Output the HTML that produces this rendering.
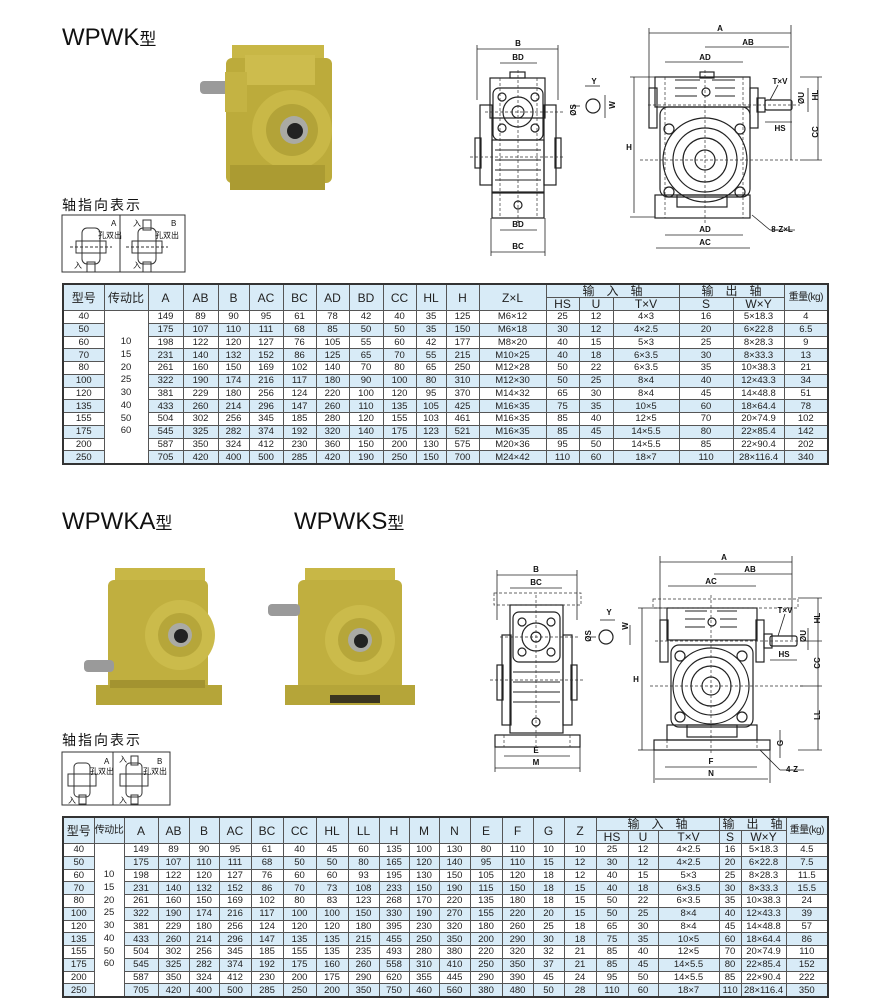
<!DOCTYPE html>
<html><head><meta charset="utf-8">
<style>
body{margin:0;width:890px;height:1001px;background:#fff;position:relative;overflow:hidden;font-family:"Liberation Sans","Noto Sans CJK SC",sans-serif}
svg{position:absolute;left:0;top:0}
.h{position:absolute;font-size:24px;color:#111;font-family:"Liberation Sans","Noto Sans CJK SC",sans-serif;letter-spacing:0}
.h small{font-size:17px}
.s{position:absolute;font-size:14px;color:#111;letter-spacing:2px}
table{position:absolute;border-collapse:collapse;table-layout:fixed;border:2px solid #333;font-size:9.5px;color:#222}
td{border:1px solid #555;padding:0;text-align:center;height:11.75px;line-height:11px;overflow:hidden;white-space:nowrap}
tr.b td{background:#d8ebf7}
tr.b td.r,tr td.r{background:#fff;vertical-align:top;line-height:12.75px}
.hd td{background:#d8ebf7;font-size:12px;height:12px;line-height:12px}
.hd td.t{height:25px}
.hd td.k{font-size:10px;letter-spacing:-0.5px}
</style></head><body>
<div class="h" style="left:62px;top:24px">WPWK<small>型</small></div>
<div class="h" style="left:62px;top:508px">WPWKA<small>型</small></div>
<div class="h" style="left:294px;top:508px">WPWKS<small>型</small></div>
<div class="s" style="left:62px;top:195px">轴指向表示</div>
<div class="s" style="left:62px;top:730px">轴指向表示</div>

<svg width="890" height="1001" viewBox="0 0 890 1001" font-family="Liberation Sans, Noto Sans CJK SC, sans-serif">

<!-- photo 1 -->
<g>
 <rect x="232" y="45" width="92" height="20" fill="#c8b746"/>
 <rect x="226" y="58" width="106" height="125" rx="6" fill="#bcab3b"/>
 <rect x="245" y="55" width="70" height="30" fill="#cdbc4d"/>
 <rect x="200" y="81" width="30" height="13" rx="4" fill="#9a9a9a"/>
 <rect x="225" y="72" width="22" height="40" fill="#c4b343"/>
 <circle cx="292" cy="130" r="40" fill="#c9b847"/>
 <circle cx="292" cy="130" r="26" fill="#b3a338"/>
 <circle cx="294" cy="130" r="14" fill="#aaaaa4"/>
 <circle cx="295" cy="131" r="8" fill="#222"/>
 <rect x="230" y="165" width="95" height="25" fill="#ab9b32"/>
</g>
<!-- photo 2 -->
<g>
 <rect x="115" y="568" width="90" height="18" fill="#c8b746"/>
 <rect x="108" y="580" width="100" height="110" rx="6" fill="#c0af3f"/>
 <circle cx="180" cy="635" r="35" fill="#cbbb4b"/>
 <circle cx="180" cy="635" r="22" fill="#b6a63a"/>
 <circle cx="180" cy="635" r="12" fill="#aaaaa4"/>
 <circle cx="181" cy="636" r="7" fill="#222"/>
 <rect x="84" y="660" width="30" height="12" rx="4" fill="#9a9a9a"/>
 <rect x="96" y="685" width="126" height="20" fill="#b5a539"/>
 <rect x="110" y="680" width="95" height="8" fill="#a39330"/>
</g>
<!-- photo 3 -->
<g>
 <rect x="305" y="568" width="90" height="18" fill="#c8b746"/>
 <rect x="298" y="580" width="104" height="110" rx="6" fill="#c0af3f"/>
 <circle cx="360" cy="640" r="35" fill="#cbbb4b"/>
 <circle cx="360" cy="640" r="22" fill="#b6a63a"/>
 <circle cx="360" cy="640" r="12" fill="#aaaaa4"/>
 <circle cx="361" cy="641" r="7" fill="#222"/>
 <rect x="268" y="604" width="32" height="12" rx="4" fill="#9a9a9a"/>
 <rect x="285" y="685" width="130" height="20" fill="#b5a539"/>
 <rect x="330" y="695" width="50" height="8" fill="#3a3520"/>
</g>

<!-- direction icons top -->
<g stroke="#333" fill="none" stroke-width="1">
 <rect x="62" y="215" width="123" height="57"/>
 <line x1="120" y1="215" x2="120" y2="272"/>
 <rect x="82" y="228" width="18" height="36" rx="5"/><rect x="76" y="241" width="30" height="12"/><rect x="87" y="262" width="8" height="10"/>
 <line x1="70" y1="247" x2="112" y2="247" stroke-dasharray="3 2"/>
 <rect x="138" y="228" width="18" height="36" rx="5"/><rect x="132" y="241" width="30" height="12"/><rect x="143" y="220" width="8" height="10"/><rect x="143" y="262" width="8" height="10"/>
 <line x1="126" y1="247" x2="168" y2="247" stroke-dasharray="3 2"/>
</g>
<g font-size="8" fill="#111"><text x="111" y="226">A</text><text x="98" y="238">孔双出</text><text x="74" y="268">入</text>
<text x="171" y="226">B</text><text x="155" y="238">孔双出</text><text x="133" y="226">入</text><text x="133" y="268">入</text></g>
<!-- direction icons bottom -->
<g stroke="#333" fill="none" stroke-width="1">
 <rect x="62" y="752" width="108" height="53"/>
 <line x1="113" y1="752" x2="113" y2="805"/>
 <rect x="74" y="763" width="16" height="34" rx="4"/><rect x="68" y="774" width="28" height="12"/><rect x="79" y="795" width="7" height="9"/>
 <rect x="126" y="763" width="16" height="34" rx="4"/><rect x="120" y="774" width="28" height="12"/><rect x="131" y="756" width="7" height="9"/><rect x="131" y="795" width="7" height="9"/>
</g>
<g font-size="8" fill="#111"><text x="104" y="764">A</text><text x="90" y="774">孔双出</text><text x="68" y="803">入</text>
<text x="157" y="764">B</text><text x="143" y="774">孔双出</text><text x="119" y="762">入</text><text x="119" y="803">入</text></g>

<!-- ===== Drawing 1 front ===== -->
<g stroke="#222" fill="none" stroke-width="1.2">
 <rect x="490" y="78" width="55" height="40"/>
 <rect x="493" y="88" width="50" height="52" rx="6"/>
 <circle cx="518" cy="112" r="15"/><circle cx="518" cy="112" r="6"/>
 <circle cx="502" cy="97" r="4"/><circle cx="535" cy="97" r="4"/><circle cx="502" cy="128" r="4"/><circle cx="535" cy="128" r="4"/>
 <rect x="480" y="105" width="12" height="80"/><rect x="544" y="105" width="12" height="80"/>
 <rect x="475" y="138" width="6" height="30"/><rect x="555" y="138" width="6" height="30"/>
 <rect x="492" y="140" width="52" height="52"/>
 <rect x="492" y="193" width="52" height="25"/>
 <rect x="510" y="72" width="15" height="6"/>
 <g stroke-width="1"><line x1="495" y1="150" x2="541" y2="150"/><line x1="495" y1="160" x2="541" y2="160"/><line x1="495" y1="170" x2="541" y2="170"/><line x1="495" y1="180" x2="541" y2="180"/></g>
 <circle cx="518" cy="205" r="4"/>
 <circle cx="593" cy="106" r="7"/>
</g>
<g stroke="#333" stroke-width="0.7" stroke-dasharray="3 2" fill="none">
 <line x1="518" y1="70" x2="518" y2="225"/><line x1="470" y1="157" x2="565" y2="157"/><line x1="485" y1="112" x2="565" y2="112"/>
 <line x1="500" y1="78" x2="500" y2="218"/><line x1="537" y1="78" x2="537" y2="218"/>
</g>
<g stroke="#222" stroke-width="0.8" fill="none">
 <line x1="477" y1="49" x2="558" y2="49"/><line x1="500" y1="63" x2="537" y2="63"/>
 <line x1="500" y1="230" x2="537" y2="230"/><line x1="491" y1="252" x2="545" y2="252"/>
 <line x1="477" y1="45" x2="477" y2="100"/><line x1="558" y1="45" x2="558" y2="100"/>
 <line x1="491" y1="218" x2="491" y2="256"/><line x1="545" y1="218" x2="545" y2="256"/>
 <line x1="585" y1="86" x2="600" y2="86"/><line x1="605" y1="95" x2="605" y2="118"/><line x1="572" y1="106" x2="580" y2="106"/>
</g>
<g font-size="8" font-weight="bold" fill="#111" text-anchor="middle">
 <text x="518" y="46">B</text><text x="518" y="60">BD</text><text x="518" y="227">BD</text><text x="518" y="249">BC</text>
 <text x="594" y="84">Y</text><text x="612" y="108" transform="rotate(-90 612 105)">W</text><text x="574" y="112" transform="rotate(-90 574 110)">ØS</text>
</g>

<!-- ===== Drawing 1 side ===== -->
<g stroke="#222" fill="none" stroke-width="1.2">
 <rect x="655" y="77" width="95" height="30"/>
 <rect x="649" y="88" width="8" height="40"/><rect x="750" y="88" width="8" height="40"/>
 <rect x="660" y="107" width="90" height="90" rx="8"/>
 <circle cx="705" cy="160" r="42"/><circle cx="705" cy="160" r="32"/><circle cx="705" cy="160" r="22"/><circle cx="705" cy="160" r="10"/>
 <circle cx="669" cy="129" r="5"/><circle cx="740" cy="129" r="5"/><circle cx="669" cy="192" r="5"/><circle cx="740" cy="192" r="5"/>
 <rect x="655" y="195" width="95" height="23"/><rect x="677" y="195" width="50" height="12"/>
 <rect x="757" y="98" width="8" height="14"/><rect x="765" y="100" width="27" height="10" rx="2"/>
 <rect x="700" y="72" width="14" height="6"/>
 <g stroke-width="1"><line x1="675" y1="80" x2="700" y2="80"/><line x1="712" y1="80" x2="735" y2="80"/><line x1="675" y1="88" x2="697" y2="88"/><line x1="715" y1="88" x2="735" y2="88"/><line x1="675" y1="96" x2="697" y2="96"/><line x1="715" y1="96" x2="735" y2="96"/></g>
 <circle cx="706" cy="92" r="4"/>
</g>
<g stroke="#333" stroke-width="0.7" stroke-dasharray="3 2" fill="none">
 <line x1="705" y1="70" x2="705" y2="225"/><line x1="640" y1="160" x2="800" y2="160"/><line x1="648" y1="105" x2="800" y2="105"/>
 <line x1="665" y1="77" x2="665" y2="218"/><line x1="743" y1="77" x2="743" y2="218"/>
</g>
<g stroke="#222" stroke-width="0.8" fill="none">
 <line x1="649" y1="33" x2="791" y2="33"/><line x1="705" y1="47" x2="789" y2="47"/><line x1="665" y1="62" x2="743" y2="62"/>
 <line x1="649" y1="28" x2="649" y2="100"/><line x1="791" y1="25" x2="791" y2="160"/>
 <line x1="634" y1="77" x2="634" y2="213"/><line x1="630" y1="77" x2="655" y2="77"/><line x1="630" y1="217" x2="655" y2="217"/>
 <line x1="665" y1="235" x2="743" y2="235"/><line x1="656" y1="248" x2="750" y2="248"/>
 <line x1="765" y1="122" x2="792" y2="122"/>
 <line x1="818" y1="77" x2="818" y2="160"/><line x1="800" y1="77" x2="822" y2="77"/><line x1="800" y1="160" x2="822" y2="160"/>
 <line x1="808" y1="88" x2="808" y2="112"/>
 <line x1="752" y1="215" x2="770" y2="230"/><line x1="770" y1="230" x2="795" y2="230"/>
 <line x1="778" y1="85" x2="770" y2="100"/>
</g>
<g font-size="8" font-weight="bold" fill="#111" text-anchor="middle">
 <text x="720" y="31">A</text><text x="748" y="45">AB</text><text x="705" y="60">AD</text><text x="705" y="232">AD</text><text x="705" y="245">AC</text>
 <text x="629" y="150">H</text><text x="780" y="84">T×V</text><text x="780" y="131">HS</text><text x="782" y="232">8-Z×L</text>
 <text x="821" y="135" transform="rotate(-90 818 135)">CC</text><text x="821" y="98" transform="rotate(-90 818 98)">HL</text><text x="806" y="100" transform="rotate(-90 804 100)">ØU</text>
</g>

<!-- ===== Drawing 2 front ===== -->
<g stroke="#222" fill="none" stroke-width="1.2">
 <rect x="510" y="605" width="53" height="128"/>
 <rect x="513" y="612" width="47" height="50" rx="6"/>
 <circle cx="536" cy="637" r="14"/><circle cx="536" cy="637" r="5"/>
 <circle cx="522" cy="622" r="4"/><circle cx="551" cy="622" r="4"/><circle cx="522" cy="652" r="4"/><circle cx="551" cy="652" r="4"/>
 <rect x="502" y="635" width="9" height="90"/><rect x="563" y="635" width="9" height="90"/>
 <rect x="497" y="665" width="6" height="35"/><rect x="571" y="665" width="6" height="35"/>
 <g stroke-width="1"><line x1="513" y1="672" x2="560" y2="672"/><line x1="513" y1="682" x2="560" y2="682"/><line x1="513" y1="692" x2="560" y2="692"/><line x1="513" y1="702" x2="560" y2="702"/></g>
 <circle cx="536" cy="722" r="4"/>
 <rect x="495" y="735" width="85" height="12"/>
 <circle cx="606" cy="637" r="7"/>
</g>
<g stroke="#333" stroke-width="0.7" stroke-dasharray="3 2" fill="none">
 <line x1="536" y1="595" x2="536" y2="750"/><line x1="490" y1="680" x2="585" y2="680"/><line x1="500" y1="637" x2="580" y2="637"/>
 <line x1="504" y1="735" x2="504" y2="747"/><line x1="570" y1="735" x2="570" y2="747"/>
 <rect x="494" y="593" width="87" height="12"/>
</g>
<g stroke="#222" stroke-width="0.8" fill="none">
 <line x1="497" y1="575" x2="577" y2="575"/><line x1="510" y1="588" x2="562" y2="588"/>
 <line x1="497" y1="570" x2="497" y2="620"/><line x1="577" y1="570" x2="577" y2="620"/>
 <line x1="504" y1="756" x2="570" y2="756"/><line x1="495" y1="768" x2="580" y2="768"/>
 <line x1="495" y1="747" x2="495" y2="772"/><line x1="580" y1="747" x2="580" y2="772"/>
 <line x1="600" y1="620" x2="615" y2="620"/><line x1="630" y1="625" x2="630" y2="645"/><line x1="588" y1="637" x2="596" y2="637"/>
</g>
<g font-size="8" font-weight="bold" fill="#111" text-anchor="middle">
 <text x="536" y="572">B</text><text x="536" y="585">BC</text><text x="536" y="753">E</text><text x="536" y="765">M</text>
 <text x="609" y="615">Y</text><text x="630" y="628" transform="rotate(-90 628 628)">W</text><text x="591" y="640" transform="rotate(-90 589 638)">ØS</text>
</g>

<!-- ===== Drawing 2 side ===== -->
<g stroke="#222" fill="none" stroke-width="1.2">
 <rect x="667" y="608" width="90" height="32"/>
 <rect x="660" y="620" width="8" height="42"/><rect x="756" y="620" width="8" height="42"/>
 <rect x="671" y="645" width="82" height="82" rx="8"/>
 <circle cx="711" cy="686" r="38"/><circle cx="711" cy="686" r="29"/><circle cx="711" cy="686" r="20"/><circle cx="711" cy="686" r="9"/>
 <circle cx="680" cy="656" r="5"/><circle cx="742" cy="656" r="5"/><circle cx="680" cy="717" r="5"/><circle cx="742" cy="717" r="5"/>
 <rect x="667" y="725" width="90" height="15"/><rect x="687" y="725" width="50" height="12"/>
 <rect x="764" y="634" width="8" height="14"/><rect x="770" y="636" width="27" height="10" rx="2"/>
 <rect x="654" y="740" width="116" height="10"/>
 <g stroke-width="1"><line x1="685" y1="611" x2="707" y2="611"/><line x1="717" y1="611" x2="737" y2="611"/><line x1="685" y1="619" x2="705" y2="619"/><line x1="720" y1="619" x2="737" y2="619"/><line x1="685" y1="627" x2="705" y2="627"/><line x1="720" y1="627" x2="737" y2="627"/></g>
 <circle cx="712" cy="622" r="4"/>
</g>
<g stroke="#333" stroke-width="0.7" stroke-dasharray="3 2" fill="none">
 <line x1="711" y1="595" x2="711" y2="755"/><line x1="650" y1="686" x2="805" y2="686"/><line x1="655" y1="641" x2="805" y2="641"/>
 <rect x="653" y="599" width="145" height="9"/>
 <line x1="667" y1="740" x2="667" y2="750"/><line x1="757" y1="740" x2="757" y2="750"/>
</g>
<g stroke="#222" stroke-width="0.8" fill="none">
 <line x1="660" y1="562" x2="792" y2="562"/><line x1="714" y1="574" x2="792" y2="574"/><line x1="668" y1="586" x2="756" y2="586"/>
 <line x1="660" y1="556" x2="660" y2="620"/><line x1="792" y1="556" x2="792" y2="640"/>
 <line x1="642" y1="608" x2="642" y2="750"/><line x1="638" y1="608" x2="666" y2="608"/><line x1="638" y1="750" x2="654" y2="750"/>
 <line x1="665" y1="767" x2="757" y2="767"/><line x1="655" y1="779" x2="768" y2="779"/>
 <line x1="654" y1="750" x2="654" y2="783"/><line x1="770" y1="750" x2="770" y2="783"/>
 <line x1="770" y1="660" x2="797" y2="660"/>
 <line x1="818" y1="598" x2="818" y2="750"/><line x1="798" y1="598" x2="822" y2="598"/><line x1="800" y1="641" x2="822" y2="641"/><line x1="800" y1="686" x2="822" y2="686"/><line x1="798" y1="750" x2="822" y2="750"/>
 <line x1="808" y1="628" x2="808" y2="650"/><line x1="780" y1="730" x2="780" y2="758"/>
 <line x1="760" y1="750" x2="780" y2="770"/><line x1="780" y1="770" x2="804" y2="770"/>
 <line x1="785" y1="614" x2="778" y2="636"/>
</g>
<g font-size="8" font-weight="bold" fill="#111" text-anchor="middle">
 <text x="724" y="560">A</text><text x="750" y="572">AB</text><text x="711" y="584">AC</text>
 <text x="636" y="682">H</text><text x="785" y="613">T×V</text><text x="784" y="657">HS</text><text x="711" y="764">F</text><text x="711" y="776">N</text><text x="792" y="772">4-Z</text>
 <text x="821" y="668" transform="rotate(-90 818 666)">CC</text><text x="821" y="623" transform="rotate(-90 818 621)">HL</text><text x="821" y="720" transform="rotate(-90 818 718)">LL</text><text x="806" y="640" transform="rotate(-90 804 638)">ØU</text><text x="782" y="748" transform="rotate(-90 780 745)">G</text>
</g>
</svg>

<table style="left:62px;top:283px;width:765px">
<colgroup><col style="width:41px"><col style="width:44px"><col style="width:35px"><col style="width:35px"><col style="width:31px"><col style="width:34px"><col style="width:33px"><col style="width:33px"><col style="width:34px"><col style="width:33px"><col style="width:30px"><col style="width:33px"><col style="width:67px"><col style="width:33px"><col style="width:34px"><col style="width:66px"><col style="width:54px"><col style="width:51px"><col style="width:44px"></colgroup>
<tr class="hd"><td rowspan="2" class="t">型号</td><td rowspan="2">传动比</td><td rowspan="2">A</td><td rowspan="2">AB</td><td rowspan="2">B</td><td rowspan="2">AC</td><td rowspan="2">BC</td><td rowspan="2">AD</td><td rowspan="2">BD</td><td rowspan="2">CC</td><td rowspan="2">HL</td><td rowspan="2">H</td><td rowspan="2">Z×L</td><td colspan="3">输　入　轴</td><td colspan="2">输　出　轴</td><td rowspan="2" class="k">重量(kg)</td></tr>
<tr class="hd"><td>HS</td><td>U</td><td>T×V</td><td>S</td><td>W×Y</td></tr>
<tr><td>40</td><td rowspan="12" class="r" style="padding-top:25px">10<br>15<br>20<br>25<br>30<br>40<br>50<br>60</td><td>149</td><td>89</td><td>90</td><td>95</td><td>61</td><td>78</td><td>42</td><td>40</td><td>35</td><td>125</td><td>M6×12</td><td>25</td><td>12</td><td>4×3</td><td>16</td><td>5×18.3</td><td>4</td></tr>
<tr class="b"><td>50</td><td>175</td><td>107</td><td>110</td><td>111</td><td>68</td><td>85</td><td>50</td><td>50</td><td>35</td><td>150</td><td>M6×18</td><td>30</td><td>12</td><td>4×2.5</td><td>20</td><td>6×22.8</td><td>6.5</td></tr>
<tr><td>60</td><td>198</td><td>122</td><td>120</td><td>127</td><td>76</td><td>105</td><td>55</td><td>60</td><td>42</td><td>177</td><td>M8×20</td><td>40</td><td>15</td><td>5×3</td><td>25</td><td>8×28.3</td><td>9</td></tr>
<tr class="b"><td>70</td><td>231</td><td>140</td><td>132</td><td>152</td><td>86</td><td>125</td><td>65</td><td>70</td><td>55</td><td>215</td><td>M10×25</td><td>40</td><td>18</td><td>6×3.5</td><td>30</td><td>8×33.3</td><td>13</td></tr>
<tr><td>80</td><td>261</td><td>160</td><td>150</td><td>169</td><td>102</td><td>140</td><td>70</td><td>80</td><td>65</td><td>250</td><td>M12×28</td><td>50</td><td>22</td><td>6×3.5</td><td>35</td><td>10×38.3</td><td>21</td></tr>
<tr class="b"><td>100</td><td>322</td><td>190</td><td>174</td><td>216</td><td>117</td><td>180</td><td>90</td><td>100</td><td>80</td><td>310</td><td>M12×30</td><td>50</td><td>25</td><td>8×4</td><td>40</td><td>12×43.3</td><td>34</td></tr>
<tr><td>120</td><td>381</td><td>229</td><td>180</td><td>256</td><td>124</td><td>220</td><td>100</td><td>120</td><td>95</td><td>370</td><td>M14×32</td><td>65</td><td>30</td><td>8×4</td><td>45</td><td>14×48.8</td><td>51</td></tr>
<tr class="b"><td>135</td><td>433</td><td>260</td><td>214</td><td>296</td><td>147</td><td>260</td><td>110</td><td>135</td><td>105</td><td>425</td><td>M16×35</td><td>75</td><td>35</td><td>10×5</td><td>60</td><td>18×64.4</td><td>78</td></tr>
<tr><td>155</td><td>504</td><td>302</td><td>256</td><td>345</td><td>185</td><td>280</td><td>120</td><td>155</td><td>103</td><td>461</td><td>M16×35</td><td>85</td><td>40</td><td>12×5</td><td>70</td><td>20×74.9</td><td>102</td></tr>
<tr class="b"><td>175</td><td>545</td><td>325</td><td>282</td><td>374</td><td>192</td><td>320</td><td>140</td><td>175</td><td>123</td><td>521</td><td>M16×35</td><td>85</td><td>45</td><td>14×5.5</td><td>80</td><td>22×85.4</td><td>142</td></tr>
<tr><td>200</td><td>587</td><td>350</td><td>324</td><td>412</td><td>230</td><td>360</td><td>150</td><td>200</td><td>130</td><td>575</td><td>M20×36</td><td>95</td><td>50</td><td>14×5.5</td><td>85</td><td>22×90.4</td><td>202</td></tr>
<tr class="b"><td>250</td><td>705</td><td>420</td><td>400</td><td>500</td><td>285</td><td>420</td><td>190</td><td>250</td><td>150</td><td>700</td><td>M24×42</td><td>110</td><td>60</td><td>18×7</td><td>110</td><td>28×116.4</td><td>340</td></tr>
</table>

<table style="left:62px;top:816px;width:765px">
<colgroup><col style="width:31px"><col style="width:30px"><col style="width:34px"><col style="width:31px"><col style="width:30px"><col style="width:32px"><col style="width:32px"><col style="width:33px"><col style="width:32px"><col style="width:31px"><col style="width:30px"><col style="width:30px"><col style="width:31px"><col style="width:32px"><col style="width:31px"><col style="width:31px"><col style="width:32px"><col style="width:32px"><col style="width:30px"><col style="width:61px"><col style="width:22px"><col style="width:45px"><col style="width:42px"></colgroup>
<tr class="hd"><td rowspan="2" class="t">型号</td><td rowspan="2" class="k">传动比</td><td rowspan="2">A</td><td rowspan="2">AB</td><td rowspan="2">B</td><td rowspan="2">AC</td><td rowspan="2">BC</td><td rowspan="2">CC</td><td rowspan="2">HL</td><td rowspan="2">LL</td><td rowspan="2">H</td><td rowspan="2">M</td><td rowspan="2">N</td><td rowspan="2">E</td><td rowspan="2">F</td><td rowspan="2">G</td><td rowspan="2">Z</td><td colspan="3">输　入　轴</td><td colspan="2">输　出　轴</td><td rowspan="2" class="k">重量(kg)</td></tr>
<tr class="hd"><td>HS</td><td>U</td><td>T×V</td><td>S</td><td>W×Y</td></tr>
<tr><td>40</td><td rowspan="12" class="r" style="padding-top:25px">10<br>15<br>20<br>25<br>30<br>40<br>50<br>60</td><td>149</td><td>89</td><td>90</td><td>95</td><td>61</td><td>40</td><td>45</td><td>60</td><td>135</td><td>100</td><td>130</td><td>80</td><td>110</td><td>10</td><td>10</td><td>25</td><td>12</td><td>4×2.5</td><td>16</td><td>5×18.3</td><td>4.5</td></tr>
<tr class="b"><td>50</td><td>175</td><td>107</td><td>110</td><td>111</td><td>68</td><td>50</td><td>50</td><td>80</td><td>165</td><td>120</td><td>140</td><td>95</td><td>110</td><td>15</td><td>12</td><td>30</td><td>12</td><td>4×2.5</td><td>20</td><td>6×22.8</td><td>7.5</td></tr>
<tr><td>60</td><td>198</td><td>122</td><td>120</td><td>127</td><td>76</td><td>60</td><td>60</td><td>93</td><td>195</td><td>130</td><td>150</td><td>105</td><td>120</td><td>18</td><td>12</td><td>40</td><td>15</td><td>5×3</td><td>25</td><td>8×28.3</td><td>11.5</td></tr>
<tr class="b"><td>70</td><td>231</td><td>140</td><td>132</td><td>152</td><td>86</td><td>70</td><td>73</td><td>108</td><td>233</td><td>150</td><td>190</td><td>115</td><td>150</td><td>18</td><td>15</td><td>40</td><td>18</td><td>6×3.5</td><td>30</td><td>8×33.3</td><td>15.5</td></tr>
<tr><td>80</td><td>261</td><td>160</td><td>150</td><td>169</td><td>102</td><td>80</td><td>83</td><td>123</td><td>268</td><td>170</td><td>220</td><td>135</td><td>180</td><td>18</td><td>15</td><td>50</td><td>22</td><td>6×3.5</td><td>35</td><td>10×38.3</td><td>24</td></tr>
<tr class="b"><td>100</td><td>322</td><td>190</td><td>174</td><td>216</td><td>117</td><td>100</td><td>100</td><td>150</td><td>330</td><td>190</td><td>270</td><td>155</td><td>220</td><td>20</td><td>15</td><td>50</td><td>25</td><td>8×4</td><td>40</td><td>12×43.3</td><td>39</td></tr>
<tr><td>120</td><td>381</td><td>229</td><td>180</td><td>256</td><td>124</td><td>120</td><td>120</td><td>180</td><td>395</td><td>230</td><td>320</td><td>180</td><td>260</td><td>25</td><td>18</td><td>65</td><td>30</td><td>8×4</td><td>45</td><td>14×48.8</td><td>57</td></tr>
<tr class="b"><td>135</td><td>433</td><td>260</td><td>214</td><td>296</td><td>147</td><td>135</td><td>135</td><td>215</td><td>455</td><td>250</td><td>350</td><td>200</td><td>290</td><td>30</td><td>18</td><td>75</td><td>35</td><td>10×5</td><td>60</td><td>18×64.4</td><td>86</td></tr>
<tr><td>155</td><td>504</td><td>302</td><td>256</td><td>345</td><td>185</td><td>155</td><td>135</td><td>235</td><td>493</td><td>280</td><td>380</td><td>220</td><td>320</td><td>32</td><td>21</td><td>85</td><td>40</td><td>12×5</td><td>70</td><td>20×74.9</td><td>110</td></tr>
<tr class="b"><td>175</td><td>545</td><td>325</td><td>282</td><td>374</td><td>192</td><td>175</td><td>160</td><td>260</td><td>558</td><td>310</td><td>410</td><td>250</td><td>350</td><td>37</td><td>21</td><td>85</td><td>45</td><td>14×5.5</td><td>80</td><td>22×85.4</td><td>152</td></tr>
<tr><td>200</td><td>587</td><td>350</td><td>324</td><td>412</td><td>230</td><td>200</td><td>175</td><td>290</td><td>620</td><td>355</td><td>445</td><td>290</td><td>390</td><td>45</td><td>24</td><td>95</td><td>50</td><td>14×5.5</td><td>85</td><td>22×90.4</td><td>222</td></tr>
<tr class="b"><td>250</td><td>705</td><td>420</td><td>400</td><td>500</td><td>285</td><td>250</td><td>200</td><td>350</td><td>750</td><td>460</td><td>560</td><td>380</td><td>480</td><td>50</td><td>28</td><td>110</td><td>60</td><td>18×7</td><td>110</td><td>28×116.4</td><td>350</td></tr>
</table>
</body></html>
